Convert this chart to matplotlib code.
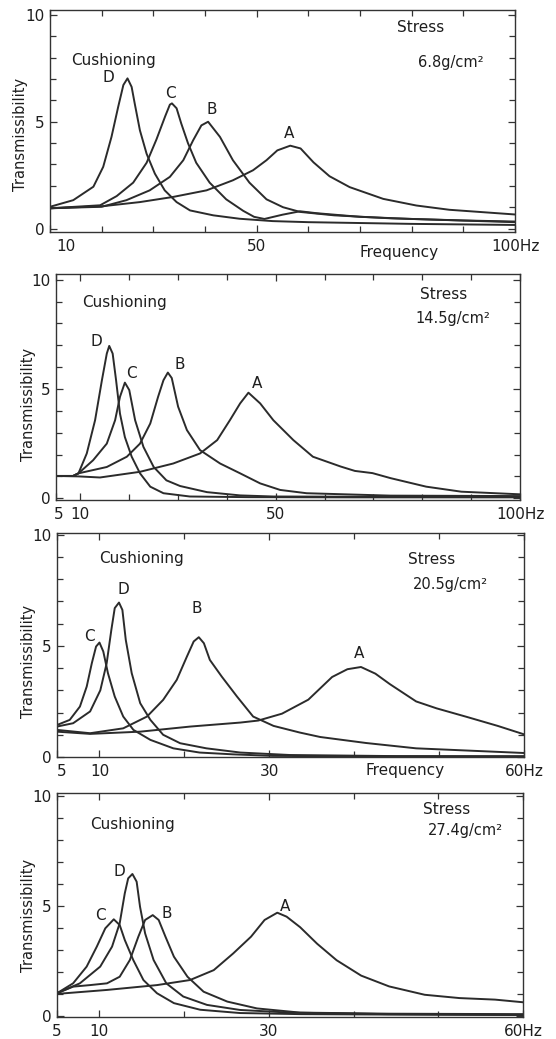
import matplotlib
matplotlib.use("Agg")
import matplotlib.pyplot as plt
from matplotlib.ticker import FixedLocator
import matplotlib.transforms as mtransforms

plt.rcParams['font.family'] = ['DejaVu Sans']

# ---------------- data ----------------
# Panel 1: stress 6.8 g/cm2
p1_D_f = [10, 14.5, 18.4, 20.3, 21.9, 23.2, 24.2, 25.0, 25.8, 26.4, 27.4, 28.7, 30.3, 32.2, 34.5, 37.1, 41.6, 46.7, 53.1, 60, 80, 100]
p1_D_t = [1.02, 1.33, 1.96, 2.89, 4.29, 5.7, 6.72, 7.03, 6.63, 5.85, 4.6, 3.5, 2.57, 1.79, 1.24, 0.85, 0.62, 0.46, 0.35, 0.3, 0.22, 0.17]
p1_C_f = [10, 19.7, 22.9, 26.1, 28.7, 30.6, 32.3, 33.2, 33.6, 34.5, 35.4, 36.7, 38.3, 40.9, 44.1, 47.4, 49.5, 51.5, 55, 58.4, 61.6, 70, 80, 100]
p1_C_t = [0.95, 1.09, 1.52, 2.15, 3.08, 4.17, 5.26, 5.8, 5.86, 5.63, 4.92, 4.0, 3.08, 2.15, 1.37, 0.83, 0.55, 0.45, 0.65, 0.81, 0.72, 0.55, 0.45, 0.3]
p1_B_f = [10, 20.0, 24.8, 29.3, 33.2, 35.8, 37.7, 39.3, 40.6, 42.9, 45.4, 48.6, 51.9, 55.1, 58.4, 65, 76, 90, 100]
p1_B_t = [0.95, 1.02, 1.33, 1.79, 2.42, 3.2, 4.13, 4.83, 5.0, 4.29, 3.2, 2.15, 1.37, 1.0, 0.78, 0.62, 0.48, 0.38, 0.33]
p1_A_f = [10, 20.3, 27.4, 33.8, 40.3, 45.4, 49.3, 51.9, 54.0, 56.5, 58.5, 61.0, 64.1, 68, 74.5, 80.9, 87.3, 100]
p1_A_t = [0.95, 1.05, 1.24, 1.48, 1.79, 2.26, 2.73, 3.2, 3.66, 3.88, 3.75, 3.1, 2.45, 1.94, 1.39, 1.08, 0.88, 0.66]

# Panel 2: stress 14.5 g/cm2
p2_D_f = [5, 8.5, 9.6, 11.3, 13.0, 14.4, 15.4, 15.9, 16.6, 17.3, 18.1, 19.1, 20.5, 22.2, 24.3, 27.0, 32.4, 44.4, 66, 100]
p2_D_t = [1.02, 1.02, 1.14, 2.05, 3.57, 5.4, 6.62, 6.97, 6.62, 5.4, 3.87, 2.8, 1.9, 1.14, 0.53, 0.23, 0.08, 0.05, 0.04, 0.04]
p2_C_f = [5, 8.5, 9.6, 12.6, 15.4, 17.1, 18.1, 19.1, 20.0, 21.2, 22.9, 25.0, 27.6, 30.4, 35.9, 42.7, 49.5, 66, 100]
p2_C_t = [1.02, 1.02, 1.14, 1.74, 2.5, 3.57, 4.64, 5.29, 4.95, 3.57, 2.35, 1.43, 0.82, 0.56, 0.28, 0.13, 0.08, 0.07, 0.06]
p2_B_f = [5, 8.5, 9.6, 15.4, 19.5, 22.2, 24.3, 25.9, 27.0, 27.9, 28.7, 30.0, 31.8, 34.5, 38.6, 42.7, 46.8, 50.9, 56.3, 73.5, 100]
p2_B_t = [1.02, 1.02, 1.14, 1.43, 1.9, 2.5, 3.42, 4.64, 5.4, 5.75, 5.5, 4.19, 3.12, 2.2, 1.59, 1.14, 0.68, 0.38, 0.23, 0.12, 0.1]
p2_A_f = [5, 9.6, 14, 22.2, 29, 34.5, 38, 40.6, 42.7, 44.4, 46.8, 49.5, 53.6, 57.6, 63.3, 66.2, 69.8, 73.5, 80.8, 88, 100]
p2_A_t = [1.02, 1.0, 0.95, 1.21, 1.59, 2.05, 2.66, 3.57, 4.34, 4.83, 4.34, 3.57, 2.66, 1.9, 1.45, 1.25, 1.15, 0.92, 0.53, 0.3, 0.18]

# Panel 3: stress 20.5 g/cm2
p3_C_f = [5, 6.5, 7.7, 8.5, 9.1, 9.6, 10.0, 10.45, 11.0, 11.8, 12.8, 14.0, 16.0, 18.7, 21.8, 25.7, 30.4, 40, 60]
p3_C_t = [1.44, 1.67, 2.27, 3.17, 4.22, 4.97, 5.15, 4.75, 3.77, 2.72, 1.82, 1.22, 0.77, 0.39, 0.2, 0.12, 0.05, 0.03, 0.03]
p3_D_f = [5, 6.9, 8.9, 10.1, 10.85, 11.4, 11.8, 12.3, 12.7, 13.1, 13.8, 14.8, 16.0, 17.5, 19.5, 22.6, 26.6, 32.4, 45, 60]
p3_D_t = [1.37, 1.52, 2.05, 3.0, 4.22, 5.72, 6.7, 6.95, 6.62, 5.27, 3.77, 2.42, 1.67, 1.0, 0.62, 0.39, 0.2, 0.09, 0.04, 0.03]
p3_B_f = [5, 8.9, 12.8, 15.6, 17.5, 19.1, 20.3, 21.1, 21.7, 22.3, 23.0, 24.4, 26.2, 28.1, 30.5, 33.6, 36.0, 41.4, 47.3, 60]
p3_B_t = [1.22, 1.07, 1.29, 1.82, 2.57, 3.47, 4.52, 5.2, 5.39, 5.12, 4.37, 3.62, 2.72, 1.82, 1.4, 1.1, 0.9, 0.63, 0.39, 0.18]
p3_A_f = [5, 8.9, 14.8, 20.7, 26.6, 28.7, 31.5, 34.6, 37.4, 39.2, 40.8, 42.5, 44.2, 47.3, 49.7, 53.3, 56.9, 60]
p3_A_t = [1.14, 1.04, 1.14, 1.37, 1.55, 1.64, 1.95, 2.58, 3.6, 3.95, 4.05, 3.75, 3.28, 2.5, 2.19, 1.8, 1.4, 1.02]

# Panel 4: stress 27.4 g/cm2
p4_C_f = [5, 6.9, 8.5, 9.7, 10.7, 11.7, 12.4, 13.0, 14.0, 15.2, 16.8, 18.8, 21.9, 26.6, 33.8, 44.2, 60]
p4_C_t = [1.05, 1.5, 2.26, 3.17, 4.0, 4.41, 4.15, 3.47, 2.56, 1.65, 1.05, 0.6, 0.3, 0.15, 0.1, 0.08, 0.06]
p4_D_f = [5, 7.7, 10.1, 11.5, 12.4, 13.0, 13.4, 13.9, 14.4, 14.8, 15.4, 16.4, 17.9, 19.9, 22.7, 26.6, 32.5, 44, 60]
p4_D_t = [1.05, 1.5, 2.26, 3.17, 4.23, 5.59, 6.27, 6.47, 6.12, 4.98, 3.77, 2.56, 1.5, 0.9, 0.52, 0.29, 0.17, 0.1, 0.07]
p4_B_f = [5, 6.9, 8.9, 10.9, 12.4, 13.6, 14.6, 15.4, 16.3, 17.0, 17.8, 18.8, 20.4, 22.3, 25.1, 28.6, 33.7, 44.2, 60]
p4_B_t = [1.05, 1.35, 1.42, 1.5, 1.8, 2.56, 3.62, 4.38, 4.6, 4.38, 3.62, 2.71, 1.8, 1.12, 0.67, 0.36, 0.17, 0.12, 0.1]
p4_A_f = [5, 10.9, 16.8, 20.7, 23.5, 25.8, 27.9, 29.5, 31.0, 32.1, 33.7, 35.7, 38, 40.9, 44.2, 48.4, 52.5, 56.7, 60]
p4_A_t = [1.02, 1.2, 1.42, 1.65, 2.1, 2.86, 3.62, 4.38, 4.71, 4.53, 4.05, 3.3, 2.55, 1.85, 1.36, 0.98, 0.83, 0.76, 0.64]

stress_labels = ["6.8g/cm²", "14.5g/cm²", "20.5g/cm²", "27.4g/cm²"]
curve_names = ["A", "B", "C", "D"]

p1_xticks = [10, 50, 100]; p1_xticklabels = ["10", "50", "100Hz"]
p2_xticks = [5, 10, 50, 100]; p2_xticklabels = ["5", "10", "50", "100Hz"]
p3_xticks = [5, 10, 30, 60]; p3_xticklabels = ["5", "10", "30", "60Hz"]
p4_xticks = [5, 10, 30, 60]; p4_xticklabels = ["5", "10", "30", "60Hz"]
yticks = [0, 5, 10]

# ---------------- layout / styling ----------------
W, H = 556, 1039
fig = plt.figure(figsize=(W / 100, H / 100), dpi=100)
fig.patch.set_facecolor("white")

def rect(l, t, r, b):
    return [l / W, 1 - b / H, (r - l) / W, (b - t) / H]

LINE = "#2b2b2b"
TXT = "#1e1e1e"

panels = [
    dict(rect=rect(50, 10, 515, 232), xlim=(10, 100), ylim=(-0.16, 10.23),
         curves={"A": (p1_A_f, p1_A_t), "B": (p1_B_f, p1_B_t), "C": (p1_C_f, p1_C_t), "D": (p1_D_f, p1_D_t)},
         xt=p1_xticks, xtl=p1_xticklabels, minor=[20, 30, 40, 60, 70, 80, 90],
         letters={"D": (21.3, 7.05), "C": (33.3, 6.33), "B": (41.4, 5.55), "A": (56.3, 4.43)},
         cush=(71, 60), stress=(397, 28), unit=(418, 62), freq=(399, 253), ylab=(21, 134),
         first=("left", 6)),
    dict(rect=rect(56, 274, 520, 500), xlim=(5, 100), ylim=(-0.08, 10.26),
         curves={"A": (p2_A_f, p2_A_t), "B": (p2_B_f, p2_B_t), "C": (p2_C_f, p2_C_t), "D": (p2_D_f, p2_D_t)},
         xt=p2_xticks, xtl=p2_xticklabels, minor=[20, 30, 40, 60, 70, 80, 90],
         letters={"D": (13.3, 7.16), "C": (20.5, 5.72), "B": (30.4, 6.1), "A": (46.1, 5.26)},
         cush=(82, 303), stress=(420, 294), unit=(415, 318), freq=None, ylab=(28, 404),
         first=("center", 3)),
    dict(rect=rect(57, 533, 524, 757), xlim=(5, 60), ylim=(0.0, 10.08),
         curves={"A": (p3_A_f, p3_A_t), "B": (p3_B_f, p3_B_t), "C": (p3_C_f, p3_C_t), "D": (p3_D_f, p3_D_t)},
         xt=p3_xticks, xtl=p3_xticklabels, minor=[20, 40, 50],
         letters={"C": (8.8, 5.42), "D": (12.8, 7.52), "B": (21.5, 6.7), "A": (40.6, 4.65)},
         cush=(99, 558), stress=(408, 560), unit=(413, 585), freq=(405, 770), ylab=(28, 661),
         first=("center", 5)),
    dict(rect=rect(57, 793, 523, 1017), xlim=(5, 60), ylim=(-0.03, 10.15),
         curves={"A": (p4_A_f, p4_A_t), "B": (p4_B_f, p4_B_t), "C": (p4_C_f, p4_C_t), "D": (p4_D_f, p4_D_t)},
         xt=p4_xticks, xtl=p4_xticklabels, minor=[20, 40, 50],
         letters={"C": (10.1, 4.6), "D": (12.4, 6.57), "B": (18.0, 4.68), "A": (31.9, 4.98)},
         cush=(90, 825), stress=(423, 810), unit=(428, 830), freq=None, ylab=(28, 915),
         first=("center", 0)),
]

for i, p in enumerate(panels):
    ax = fig.add_axes(p["rect"])
    for name in curve_names:
        f, t = p["curves"][name]
        ax.plot(f, t, color=LINE, lw=1.4, solid_joinstyle="round", solid_capstyle="round")
    ax.set_xlim(*p["xlim"])
    ax.set_ylim(*p["ylim"])
    for s in ax.spines.values():
        s.set_color("#333333")
        s.set_linewidth(1.0)
    ax.set_xticks(p["xt"])
    ax.set_xticklabels(p["xtl"])
    ax.xaxis.set_minor_locator(FixedLocator(p["minor"]))
    ax.set_yticks(yticks)
    ax.yaxis.set_minor_locator(FixedLocator(list(range(1, 10))))
    ax.tick_params(which="both", direction="in", top=True, right=True, color="#333333", width=0.9)
    ax.tick_params(which="major", length=5, labelsize=11, labelcolor=TXT)
    ax.tick_params(which="minor", length=4)
    ax.tick_params(axis="x", which="major", pad=5)
    ax.tick_params(axis="y", which="major", pad=4)
    ha, dx = p["first"]
    lab = ax.get_xticklabels()[0]
    lab.set_horizontalalignment(ha)
    if dx:
        offset = mtransforms.ScaledTranslation(dx / 100, 0, fig.dpi_scale_trans)
        lab.set_transform(lab.get_transform() + offset)
    for name, (lx, ly) in p["letters"].items():
        ax.text(lx, ly, name, fontsize=11, color=TXT, ha="center", va="center")
    fig.text(p["cush"][0] / W, 1 - p["cush"][1] / H, "Cushioning", fontsize=11, color=TXT, ha="left", va="center")
    fig.text(p["stress"][0] / W, 1 - p["stress"][1] / H, "Stress", fontsize=11, color=TXT, ha="left", va="center")
    fig.text(p["unit"][0] / W, 1 - p["unit"][1] / H, stress_labels[i], fontsize=10.5, color=TXT, ha="left", va="center")
    fig.text(p["ylab"][0] / W, 1 - p["ylab"][1] / H, "Transmissibility", fontsize=10.5, color=TXT,
             rotation=90, ha="center", va="center")
    if p["freq"] is not None:
        fig.text(p["freq"][0] / W, 1 - p["freq"][1] / H, "Frequency", fontsize=11, color=TXT, ha="center", va="center")

fig.savefig("out.png", dpi=100, facecolor="white")
